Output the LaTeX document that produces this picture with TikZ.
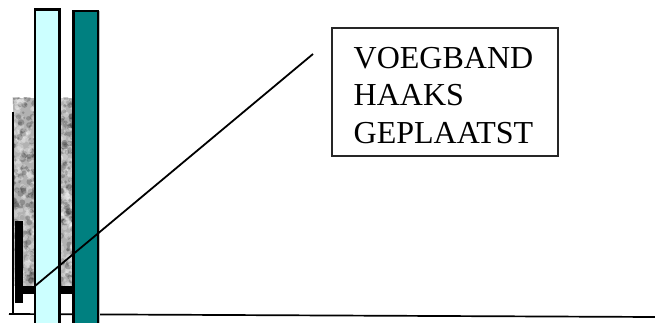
\documentclass[tikz,border=0pt]{standalone}
\usepackage{fontspec}
\setmainfont{Liberation Serif}
\definecolor{palecyan}{RGB}{204,255,255}
\definecolor{deepteal}{RGB}{0,128,128}
\begin{document}
\begin{tikzpicture}[x=1pt,y=-1pt,
  column/.style={draw=black,line width=2.4pt},
  thin line/.style={draw=black,line width=1.7pt},
  label box/.style={draw=black!85,line width=1.7pt,fill=white,minimum width=226pt,minimum height=128pt,inner sep=0pt},
  label text/.style={font=\fontsize{32}{37.5}\selectfont,align=left,inner sep=0pt,anchor=north west}]
\useasboundingbox (0,0) rectangle (655,323);
% stone
\begin{scope}
\clip (12.5,98) rectangle (73,286);
\fill[black!30] (12.5,98) rectangle (73,286);
\pgfmathsetseed{4217}
\foreach \i in {1,...,900}{
  \pgfmathsetmacro{\px}{12+rnd*62}
  \pgfmathsetmacro{\py}{97+rnd*190}
  \pgfmathsetmacro{\ps}{1.2+rnd*2.6}
  \pgfmathsetmacro{\pg}{int(rnd*100)}
  \ifnum\pg>55
    \fill[black,opacity=.2] (\px,\py) circle (\ps);
  \else
    \fill[white,opacity=.26] (\px,\py) circle (\ps);
  \fi
}
\end{scope}
% base lines
\coordinate (wallTop) at (13,112);
\coordinate (wallBottom) at (13,314);
\coordinate (floorLeft) at (9,314);
\coordinate (floorRight) at (655,317);
\draw[thin line] (wallTop) -- (wallBottom);
\draw[thin line] (floorLeft) -- (floorRight);
% profile
\fill[black] (15,221) rectangle (22.5,303);
\fill[black] (15,286) rectangle (73,293.5);
% columns
\fill[black!25] (98,11) rectangle (100,323);
\draw[column,fill=palecyan] (35,9.5) rectangle (59.5,330);
\draw[column,fill=deepteal] (73.5,11) rectangle (97.7,330);
% label
\node[label box,anchor=north west] (lbl) at (331,27) {};
\node[label text] (txt) at (353.5,47) {VOEGBAND\\HAAKS\\GEPLAATST};
% leader
\coordinate (tip) at (35,286);
\coordinate (far) at (313,54);
\draw[black,line width=1.8pt] (tip) -- (far);
\end{tikzpicture}
\end{document}
